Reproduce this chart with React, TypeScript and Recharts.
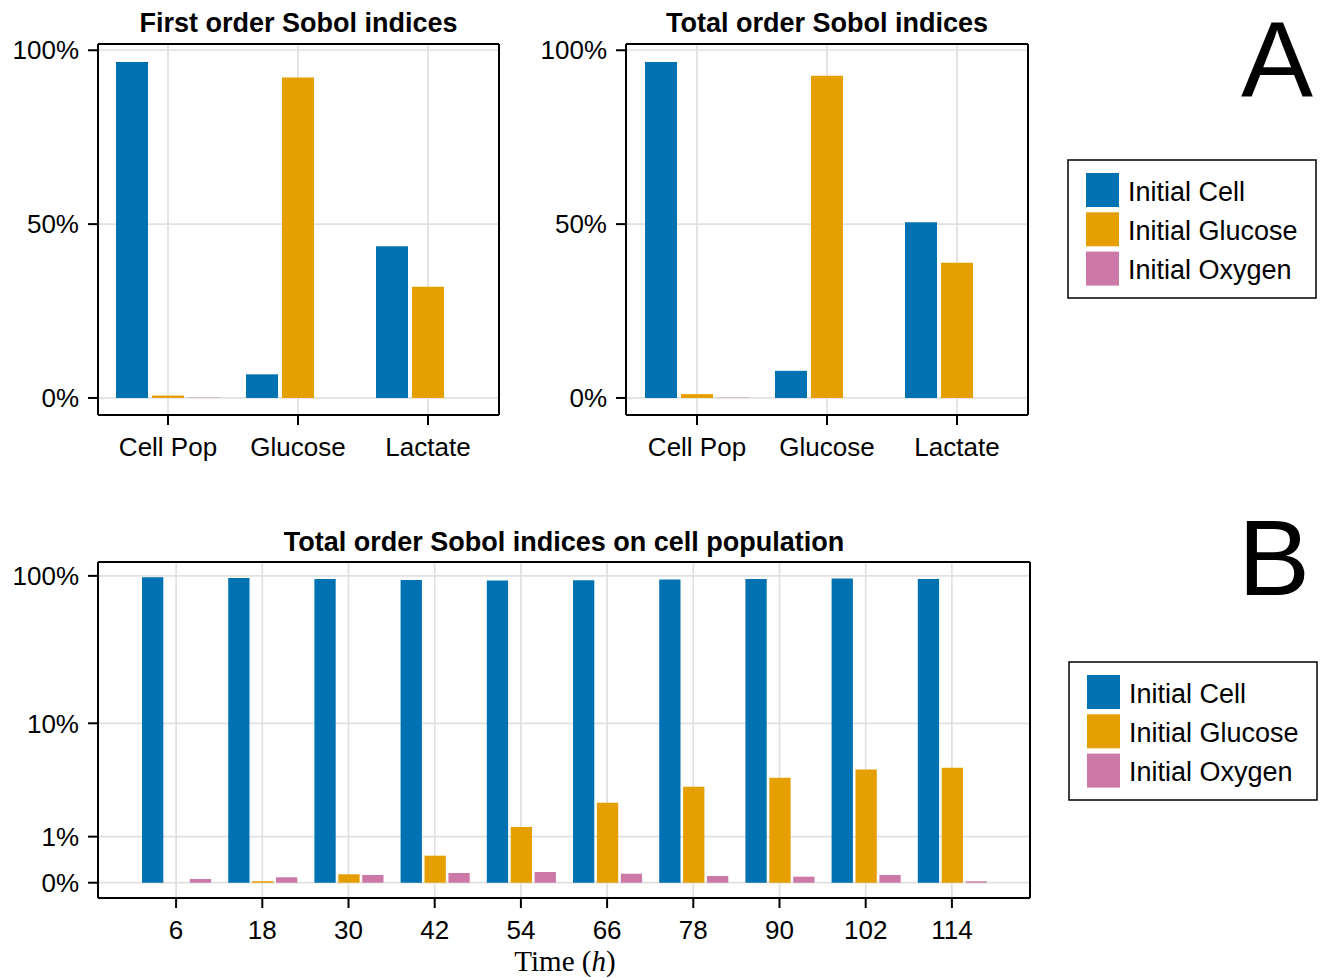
import React from 'react';
import { BarChart, Bar, XAxis, YAxis, CartesianGrid } from 'recharts';

// ---- data ----
const outputs = ['Cell Pop', 'Glucose', 'Lactate'];
const firstCell = [96.6, 6.8, 43.6];
const firstGlucose = [0.7, 92.2, 32.0];
const firstOxygen = [0.1, 0, 0];
const totalCell = [96.6, 7.8, 50.5];
const totalGlucose = [1.1, 92.7, 38.9];
const totalOxygen = [0.1, 0, 0];

const times = ['6', '18', '30', '42', '54', '66', '78', '90', '102', '114'];
const timeCell = [98.0, 97.0, 95.5, 94.1, 93.2, 93.6, 94.6, 95.5, 96.0, 95.5];
const timeGlucose = [0, 0.021, 0.135, 0.502, 1.315, 2.324, 3.23, 3.84, 4.49, 4.63];
const timeOxygen = [0.057, 0.085, 0.123, 0.157, 0.175, 0.145, 0.106, 0.095, 0.123, 0.021];

const seriesNames = ['Initial Cell', 'Initial Glucose', 'Initial Oxygen'];
const seriesColors = ['#0072B2', '#E69F00', '#CC79A7'];
const linearTicks = [0, 50, 100];
const pseudoLogTicks = [0, 1, 10, 100];

const FONT = '"Liberation Sans", Arial, Helvetica, sans-serif';
const frameLine = { stroke: '#000', strokeWidth: 2 };
const gridColor = '#e0e0e0';
const pct = (v: number) => `${v}%`;

function TopPanel({ left, yWidth, marginRight, padL, padR, cell, glucose, oxygen }: any) {
  const data = outputs.map((o, i) => ({ name: o, cell: cell[i], glucose: glucose[i], oxygen: oxygen[i] }));
  return (
    <div style={{ position: 'absolute', left, top: 0 }}>
      <BarChart width={520} height={470} data={data} margin={{ top: 43, right: marginRight, bottom: 0, left: 0 }} barSize={32} barGap={4}>
        <CartesianGrid stroke={gridColor} strokeWidth={1.7} />
        <XAxis dataKey="name" height={55} padding={{ left: padL, right: padR }} tickSize={10} tickMargin={13}
          tick={{ fill: '#000', fontSize: 26, fontFamily: FONT }} axisLine={frameLine} tickLine={frameLine} />
        <XAxis xAxisId="top" dataKey="name" orientation="top" height={1} padding={{ left: padL, right: padR }} tick={false} tickLine={false} axisLine={frameLine} />
        <YAxis type="number" domain={[-4.9, 101.8]} allowDataOverflow ticks={linearTicks} tickFormatter={pct} width={yWidth}
          tickSize={10} tickMargin={9} tick={{ fill: '#000', fontSize: 26, fontFamily: FONT }} axisLine={frameLine} tickLine={frameLine} />
        <YAxis yAxisId="right" orientation="right" width={1} domain={[-4.9, 101.8]} allowDataOverflow tick={false} tickLine={false} axisLine={frameLine} />
        <Bar dataKey="cell" name={seriesNames[0]} fill={seriesColors[0]} isAnimationActive={false} />
        <Bar dataKey="glucose" name={seriesNames[1]} fill={seriesColors[1]} isAnimationActive={false} />
        <Bar dataKey="oxygen" name={seriesNames[2]} fill={seriesColors[2]} isAnimationActive={false} />
      </BarChart>
    </div>
  );
}

function BottomPanel() {
  const data = times.map((t, i) => ({ name: t, cell: timeCell[i], glucose: timeGlucose[i], oxygen: timeOxygen[i] }));
  return (
    <div style={{ position: 'absolute', left: 0, top: 520 }}>
      <BarChart width={1040} height={458} data={data} margin={{ top: 41, right: 9, bottom: 0, left: 0 }} barSize={21.3} barGap={2.6}>
        <CartesianGrid stroke={gridColor} strokeWidth={1.7} />
        <XAxis dataKey="name" height={80} padding={{ left: 35, right: 35 }} tickSize={10} tickMargin={13}
          tick={{ fill: '#000', fontSize: 26, fontFamily: FONT }} axisLine={frameLine} tickLine={frameLine} />
        <XAxis xAxisId="top" dataKey="name" orientation="top" height={1} padding={{ left: 35, right: 35 }} tick={false} tickLine={false} axisLine={frameLine} />
        <YAxis type="number" scale="symlog" domain={[-0.2585, 123.45]} allowDataOverflow ticks={pseudoLogTicks} tickFormatter={pct} width={98}
          tickSize={10} tickMargin={9} tick={{ fill: '#000', fontSize: 26, fontFamily: FONT }} axisLine={frameLine} tickLine={frameLine} />
        <YAxis yAxisId="right" orientation="right" width={1} domain={[-0.2585, 123.45]} allowDataOverflow tick={false} tickLine={false} axisLine={frameLine} />
        <Bar dataKey="cell" name={seriesNames[0]} fill={seriesColors[0]} isAnimationActive={false} />
        <Bar dataKey="glucose" name={seriesNames[1]} fill={seriesColors[1]} isAnimationActive={false} />
        <Bar dataKey="oxygen" name={seriesNames[2]} fill={seriesColors[2]} isAnimationActive={false} />
      </BarChart>
    </div>
  );
}

function LegendBox({ x, y }: { x: number; y: number }) {
  return (
    <g>
      <rect x={x} y={y} width={248} height={138} fill="#fff" stroke="#000" strokeWidth={1.5} />
      {seriesNames.map((n, i) => (
        <g key={n}>
          <rect x={x + 18} y={y + 13 + i * 39.3} width={33} height={34} fill={seriesColors[i]} />
          <text x={x + 60} y={y + 40.5 + i * 39.3} fontSize={27} fontFamily={FONT} fill="#000">{n}</text>
        </g>
      ))}
    </g>
  );
}

export default function App() {
  return (
    <div style={{ position: 'absolute', left: 0, top: 0, width: 1322, height: 978, background: '#fff', fontFamily: FONT, overflow: 'hidden' }}>
      <TopPanel left={0} yWidth={98} marginRight={20} padL={5} padR={6} cell={firstCell} glucose={firstGlucose} oxygen={firstOxygen} />
      <TopPanel left={520} yWidth={106} marginRight={11} padL={6} padR={6} cell={totalCell} glucose={totalGlucose} oxygen={totalOxygen} />
      <BottomPanel />
      <svg width={1322} height={978} style={{ position: 'absolute', left: 0, top: 0, pointerEvents: 'none' }}>
        <text x={298.5} y={32} textAnchor="middle" fontSize={27} fontWeight="bold" fontFamily={FONT}>First order Sobol indices</text>
        <text x={827} y={32} textAnchor="middle" fontSize={27} fontWeight="bold" fontFamily={FONT}>Total order Sobol indices</text>
        <text x={564} y={551} textAnchor="middle" fontSize={27} fontWeight="bold" fontFamily={FONT}>Total order Sobol indices on cell population</text>
        <text x={565} y={971} textAnchor="middle" fontSize={29} fontFamily='"Liberation Serif", "DejaVu Serif", serif'>
          Time (<tspan fontStyle="italic">h</tspan>)
        </text>
        <text x={1241} y={97} fontSize={108} fontFamily={FONT}>A</text>
        <text x={1238} y={595} fontSize={108} fontFamily={FONT}>B</text>
        <LegendBox x={1068} y={160} />
        <LegendBox x={1069} y={662} />
      </svg>
    </div>
  );
}
